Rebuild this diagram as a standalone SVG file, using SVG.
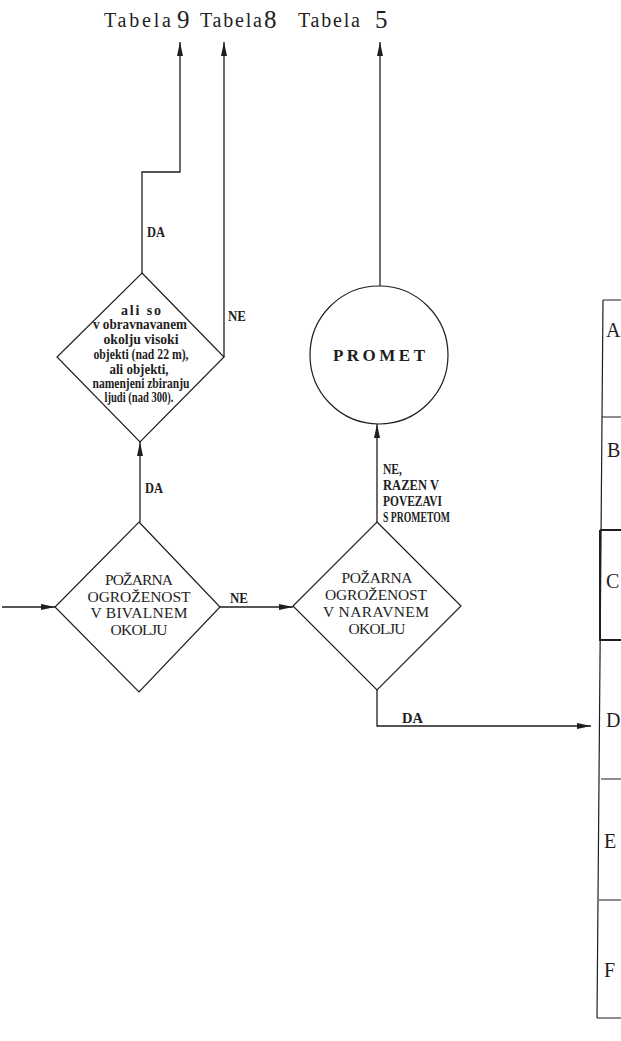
<svg xmlns="http://www.w3.org/2000/svg" width="621" height="1041" viewBox="0 0 621 1041">
<style>
.ln{fill:none;stroke:#1e1e1e;stroke-width:1.3}
.sh{fill:none;stroke:#1e1e1e;stroke-width:1.2}
.t{font-family:"Liberation Serif",serif;fill:#1e1e1e}
.cap{font-size:15.5px;text-anchor:middle}
.cond{font-size:14px;text-anchor:middle;font-weight:bold}
.lab{font-size:15px;font-weight:bold}
.tab{font-size:20px}
.num{font-size:25px}
.let{font-size:20px}
</style>
<defs>
<marker id="ah" viewBox="0 0 14 6" refX="14" refY="3" markerWidth="14" markerHeight="6" orient="auto" markerUnits="userSpaceOnUse">
<path d="M0,0 L14,3 L0,6 z" fill="#1e1e1e"/>
</marker>
</defs>
<rect width="621" height="1041" fill="#fff"/>

<g id="titles">
<text class="t tab" x="104" y="27" textLength="67" lengthAdjust="spacing">Tabela</text><text class="t num" x="177" y="28">9</text>
<text class="t tab" x="200" y="27" textLength="62" lengthAdjust="spacing">Tabela</text><text class="t num" x="264" y="28">8</text>
<text class="t tab" x="298" y="27" textLength="62" lengthAdjust="spacing">Tabela</text><text class="t num" x="375" y="28">5</text>
</g>

<g id="connectors">
<path class="ln" d="M2,607 H55" marker-end="url(#ah)"/>
<path class="ln" d="M220,607 H293" marker-end="url(#ah)"/>
<path class="ln" d="M140,522 V442" marker-end="url(#ah)"/>
<path class="ln" d="M142,273 V172 H180 V42" marker-end="url(#ah)"/>
<path class="ln" d="M224,357 V42" marker-end="url(#ah)"/>
<path class="ln" d="M377,522 V424" marker-end="url(#ah)"/>
<path class="ln" d="M380,286 V42" marker-end="url(#ah)"/>
<path class="ln" d="M377,690 V726 H591" marker-end="url(#ah)"/>
<text class="t lab" x="147" y="237" textLength="18" lengthAdjust="spacingAndGlyphs">DA</text>
<text class="t lab" x="228" y="321" textLength="18" lengthAdjust="spacingAndGlyphs">NE</text>
<text class="t lab" x="145" y="493" textLength="18" lengthAdjust="spacingAndGlyphs">DA</text>
<text class="t lab" x="230" y="603" textLength="18" lengthAdjust="spacingAndGlyphs">NE</text>
<text class="t lab" x="383" y="474" textLength="19" lengthAdjust="spacingAndGlyphs">NE,</text>
<text class="t lab" x="383" y="490" textLength="56" lengthAdjust="spacingAndGlyphs">RAZEN V</text>
<text class="t lab" x="383" y="506" textLength="59" lengthAdjust="spacingAndGlyphs">POVEZAVI</text>
<text class="t lab" x="383" y="522" textLength="67" lengthAdjust="spacingAndGlyphs">S PROMETOM</text>
<text class="t lab" x="402" y="723" textLength="21" lengthAdjust="spacingAndGlyphs">DA</text>
</g>

<g id="q-visoki">
<polygon class="sh" points="142,273 224,357 140,442 57,357"/>
<text class="t cond" x="141" y="315" textLength="40" lengthAdjust="spacing">ali so</text>
<text class="t cond" x="140" y="329" textLength="94" lengthAdjust="spacingAndGlyphs">v obravnavanem</text>
<text class="t cond" x="141" y="344" textLength="75" lengthAdjust="spacingAndGlyphs">okolju visoki</text>
<text class="t cond" x="141" y="359" textLength="95" lengthAdjust="spacingAndGlyphs">objekti (nad 22 m),</text>
<text class="t cond" x="139" y="374" textLength="59" lengthAdjust="spacingAndGlyphs">ali objekti,</text>
<text class="t cond" x="141" y="388" textLength="97" lengthAdjust="spacingAndGlyphs">namenjeni zbiranju</text>
<text class="t cond" x="139" y="402" textLength="69" lengthAdjust="spacingAndGlyphs">ljudi (nad 300).</text>
</g>

<g id="q-bivalno">
<polygon class="sh" points="139,522 220,607 139,692 55,607"/>
<text class="t cap" x="139" y="585" textLength="68" lengthAdjust="spacing">POŽARNA</text>
<text class="t cap" x="139" y="602" textLength="103" lengthAdjust="spacing">OGROŽENOST</text>
<text class="t cap" x="139" y="618" textLength="97" lengthAdjust="spacing">V BIVALNEM</text>
<text class="t cap" x="139" y="635" textLength="57" lengthAdjust="spacing">OKOLJU</text>
</g>

<g id="q-naravno">
<polygon class="sh" points="377,522 461,606 377,690 293,606"/>
<text class="t cap" x="377" y="583" textLength="71" lengthAdjust="spacing">POŽARNA</text>
<text class="t cap" x="376" y="600" textLength="102" lengthAdjust="spacing">OGROŽENOST</text>
<text class="t cap" x="376" y="617" textLength="106" lengthAdjust="spacing">V NARAVNEM</text>
<text class="t cap" x="377" y="634" textLength="57" lengthAdjust="spacing">OKOLJU</text>
</g>

<g id="promet">
<circle class="sh" cx="379" cy="355" r="69"/>
<text class="t" x="333" y="361" font-size="17" font-weight="bold" textLength="92" lengthAdjust="spacing">PROMET</text>
</g>

<g id="razredi">
<path class="sh" d="M603,300 L597,1018"/>
<path class="sh" d="M603,300 H621 M602,417 H621 M601,779 H621 M599,900 H621 M597,1018 H621"/>
<path d="M600,530 H621 M600,530 V640 M599,640 H621" fill="none" stroke="#1e1e1e" stroke-width="2"/>
<text class="t let" x="606" y="337">A</text>
<text class="t let" x="607" y="457">B</text>
<text class="t let" x="606" y="588">C</text>
<text class="t let" x="606" y="727">D</text>
<text class="t let" x="604" y="848">E</text>
<text class="t let" x="604" y="977">F</text>
</g>
</svg>
